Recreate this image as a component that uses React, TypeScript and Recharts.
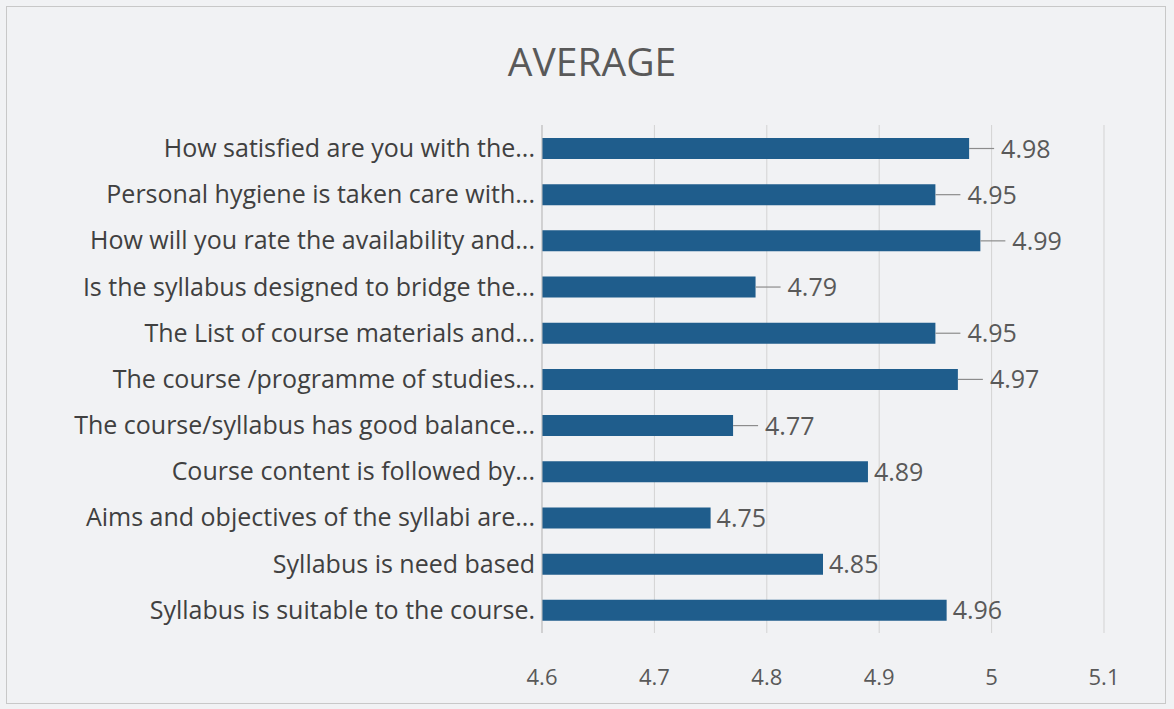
import React from "react";
import { BarChart, Bar, XAxis, YAxis, CartesianGrid, LabelList } from "recharts";

const categories = [
  "How satisfied are you with the...",
  "Personal hygiene is taken care with...",
  "How will you rate the availability and...",
  "Is the syllabus designed to bridge the...",
  "The List of course materials and...",
  "The course /programme of studies...",
  "The course/syllabus has good balance...",
  "Course content is followed by...",
  "Aims and objectives of the syllabi are...",
  "Syllabus is need based",
  "Syllabus is suitable to the course.",
];

const averages = [4.98, 4.95, 4.99, 4.79, 4.95, 4.97, 4.77, 4.89, 4.75, 4.85, 4.96];

// which data labels were pulled out with a leader line in the original
const leaderLines = [true, true, true, true, true, true, true, false, false, false, false];

const xTicks = [4.6, 4.7, 4.8, 4.9, 5, 5.1];

const data = categories.map((name, i) => ({
  name,
  value: averages[i],
}));

const BAR_COLOR = "#1f5d8c";
const TEXT = "#404040";
const FONT = "'Open Sans', sans-serif";

function ValueLabel(props: any) {
  const { x, y, width, height, value, index } = props;
  const endX = x + width;
  const cy = y + height / 2;
  const leader = leaderLines[index];
  const textX = leader ? endX + 32 : endX + 6;
  return (
    <g>
      {leader && (
        <line x1={endX} y1={cy} x2={endX + 25} y2={cy} stroke="#8c8c8c" strokeWidth={1.2} />
      )}
      <text x={textX} y={cy} dy="0.36em" fill="#595959" fontSize={25} fontFamily={FONT}>
        {value}
      </text>
    </g>
  );
}

export default function App() {
  return (
    <div
      style={{
        position: "absolute",
        left: 0,
        top: 0,
        width: 1174,
        height: 709,
        background: "#f1f2f4",
        fontFamily: FONT,
      }}
    >
      <div
        style={{
          position: "absolute",
          left: 6,
          top: 6,
          width: 1160,
          height: 698,
          border: "1px solid #c8c8c8",
          boxSizing: "border-box",
        }}
      />
      <div
        style={{
          position: "absolute",
          top: 33,
          left: 0,
          width: 1184,
          textAlign: "center",
          fontSize: 39,
          lineHeight: "56px",
          color: "#595959",
        }}
      >
        AVERAGE
      </div>
      <div style={{ position: "absolute", left: 0, top: 0 }}>
        <BarChart
          width={1174}
          height={709}
          data={data}
          layout="vertical"
          margin={{ top: 125, right: 70, bottom: 46, left: 0 }}
          barCategoryGap={13}
        >
          <CartesianGrid horizontal={false} stroke="#d3d3d3" />
          <XAxis
            type="number"
            domain={[4.6, 5.1]}
            ticks={xTicks}
            allowDataOverflow
            height={30}
            axisLine={false}
            tickLine={false}
            tickMargin={30}
            tick={{ fill: "#595959", fontSize: 22, fontFamily: FONT }}
          />
          <YAxis
            type="category"
            dataKey="name"
            width={542}
            axisLine={{ stroke: "#bfbfbf" }}
            tickLine={false}
            tickMargin={1}
            interval={0}
            tick={{ fill: TEXT, fontSize: 25, fontFamily: FONT }}
          />
          <Bar dataKey="value" fill={BAR_COLOR} barSize={21} isAnimationActive={false}>
            <LabelList dataKey="value" content={<ValueLabel />} />
          </Bar>
        </BarChart>
      </div>
    </div>
  );
}
